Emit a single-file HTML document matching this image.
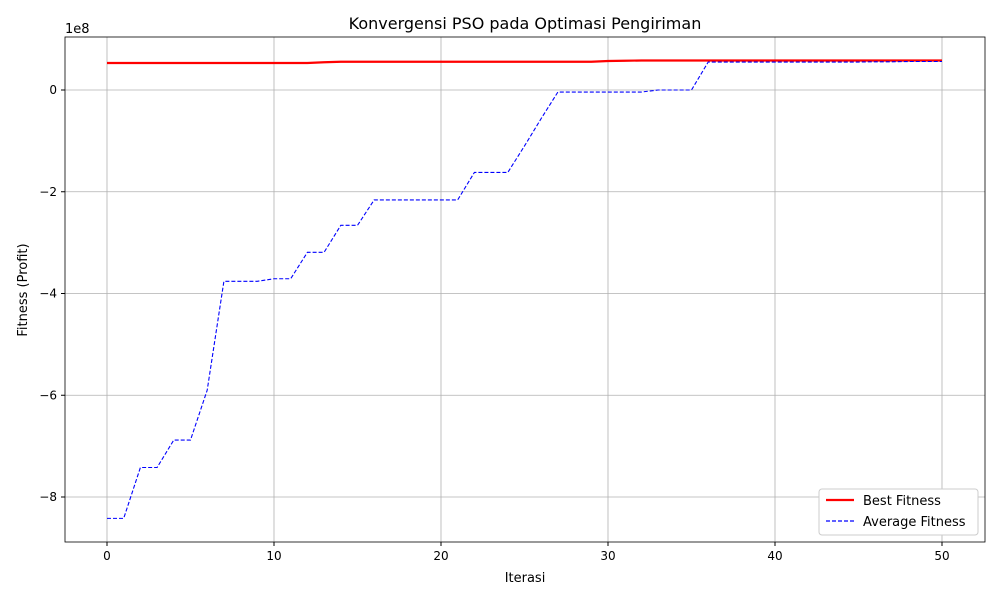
<!DOCTYPE html>
<html><head><meta charset="utf-8"><style>
body{margin:0;background:#fff;font-family:"Liberation Sans","DejaVu Sans",sans-serif}
svg text{font-family:"DejaVu Sans","Liberation Sans",sans-serif}
</style></head><body>
<svg id="chart" width="1000" height="600" xmlns="http://www.w3.org/2000/svg">
<rect x="0" y="0" width="1000" height="600" fill="#fff"/>
<g id="grid"></g><g id="series"></g><g id="axes"></g>
<text x="525" y="29" font-size="16" text-anchor="middle">Konvergensi PSO pada Optimasi Pengiriman</text>
<text x="525" y="582" font-size="13" text-anchor="middle">Iterasi</text>
<text x="27" y="290" font-size="13" text-anchor="middle" transform="rotate(-90 27 290)">Fitness (Profit)</text>
<text x="65" y="33" font-size="13">1e8</text>
<g>
<rect x="819" y="489" width="159" height="46" fill="#fff" stroke="#ccc" rx="3"/>
<line x1="826" y1="500" x2="854" y2="500" stroke="red" stroke-width="2.2"/>
<text x="863" y="505" font-size="13">Best Fitness</text>
<line x1="826" y1="521" x2="854" y2="521" stroke="blue" stroke-width="1.2" stroke-dasharray="4,2"/>
<text x="863" y="526" font-size="13">Average Fitness</text>
</g>
</svg>
<script>
const iterations=[...Array(51).keys()];
const bestFitness=[0.53,0.53,0.53,0.53,0.53,0.53,0.53,0.53,0.53,0.53,0.53,0.53,0.53,0.545,0.556,0.556,0.556,0.556,0.556,0.556,0.556,0.556,0.556,0.556,0.556,0.556,0.556,0.556,0.556,0.556,0.57,0.575,0.58,0.58,0.58,0.58,0.58,0.58,0.58,0.58,0.58,0.58,0.58,0.58,0.58,0.58,0.58,0.58,0.58,0.58,0.58];
const avgFitness=[-8.42,-8.42,-7.42,-7.42,-6.88,-6.88,-5.9,-3.76,-3.76,-3.76,-3.71,-3.71,-3.19,-3.19,-2.66,-2.66,-2.16,-2.16,-2.16,-2.16,-2.16,-2.16,-1.62,-1.62,-1.62,-1.1,-0.56,-0.04,-0.04,-0.04,-0.04,-0.04,-0.04,0.0,0.0,0.0,0.55,0.55,0.55,0.55,0.55,0.55,0.55,0.55,0.55,0.55,0.555,0.555,0.56,0.56,0.56];
const xTicks=[0,10,20,30,40,50];
const yTicks=[0,-2,-4,-6,-8];
const yTickLabels=["0","\u22122","\u22124","\u22126","\u22128"];
const L=65,R=985,T=37,B=542;
const X=v=>107+(v-0)*(942-107)/50;
const Y=v=>90-v*(497-90)/8;
const ns="http://www.w3.org/2000/svg";
function mk(p,t,a){const e=document.createElementNS(ns,t);for(const k in a)e.setAttribute(k,a[k]);p.appendChild(e);return e;}
const grid=document.getElementById('grid'),axes=document.getElementById('axes'),ser=document.getElementById('series');
xTicks.forEach(t=>{
 const g=mk(grid,'line',{x1:X(t),x2:X(t),y1:T,y2:B,stroke:'#b0b0b0','stroke-width':0.8});
 
 
 mk(axes,'line',{x1:X(t),x2:X(t),y1:B,y2:B+4,stroke:'#000'});
 const tx=mk(axes,'text',{x:X(t),y:B+18,'font-size':12,'text-anchor':'middle'});tx.textContent=t;
 
 
});
yTicks.forEach((t,i)=>{
 const g=mk(grid,'line',{x1:L,x2:R,y1:Y(t),y2:Y(t),stroke:'#b0b0b0','stroke-width':0.8});
 
 
 mk(axes,'line',{x1:L-4,x2:L,y1:Y(t),y2:Y(t),stroke:'#000'});
 const tx=mk(axes,'text',{x:L-8,y:Y(t)+4,'font-size':12,'text-anchor':'end'});tx.textContent=yTickLabels[i];
 
 
});
const frame=mk(axes,'rect',{x:L,y:T,width:R-L,height:B-T,fill:'none',stroke:'#000','stroke-width':0.8});


const pts=a=>a.map((v,i)=>X(iterations[i])+','+Y(v)).join(' ');
const l1=mk(ser,'polyline',{points:pts(bestFitness),fill:'none',stroke:'red','stroke-width':2.2});


const l2=mk(ser,'polyline',{points:pts(avgFitness),fill:'none',stroke:'blue','stroke-width':1.1,'stroke-dasharray':'4,2'});


</script>
</body></html>
